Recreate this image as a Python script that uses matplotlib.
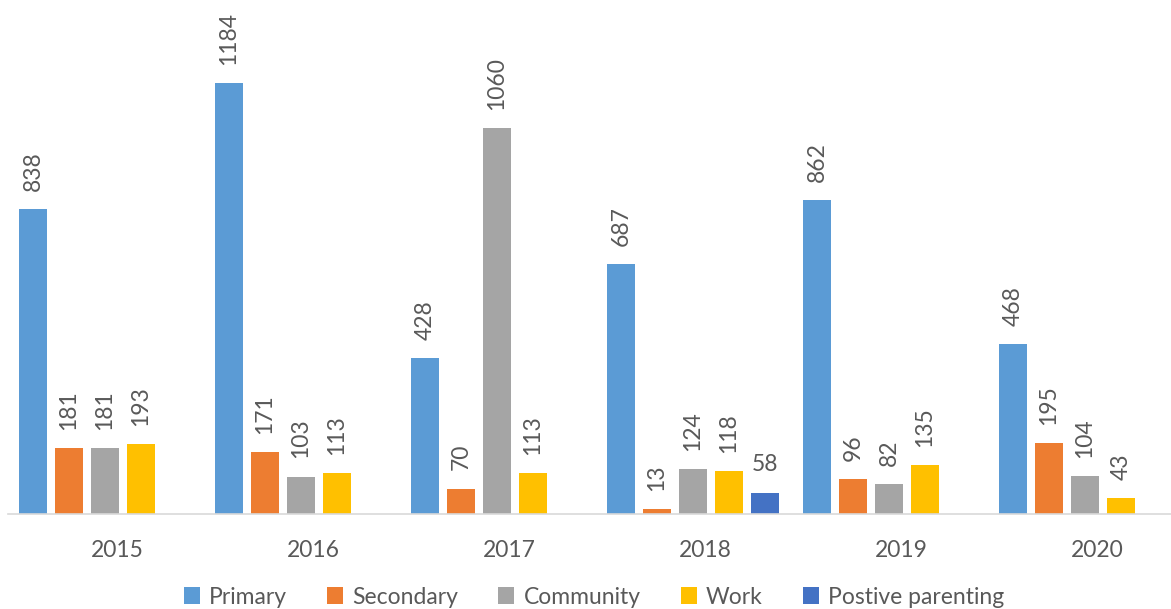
import matplotlib
matplotlib.use("Agg")
import matplotlib.pyplot as plt
import numpy as np

years = ["2015", "2016", "2017", "2018", "2019", "2020"]
series_names = ["Primary", "Secondary", "Community", "Work", "Postive parenting"]
primary = [838, 1184, 428, 687, 862, 468]
secondary = [181, 171, 70, 13, 96, 195]
community = [181, 103, 1060, 124, 82, 104]
work = [193, 113, 113, 118, 135, 43]
positive = [0, 0, 0, 58, 0, 0]

colors = ["#5B9BD5", "#ED7D31", "#A5A5A5", "#FFC000", "#4472C4"]
all_series = [primary, secondary, community, work, positive]

W, H = 1171, 609
fig = plt.figure(figsize=(W / 100, H / 100), dpi=100)
ax = fig.add_axes([8 / W, 1 - 514 / H, 1 - 8 / W, 1400 * 0.364 / H])

font = "Lato"
tc = "#595959"
fs = 16.5
x = np.arange(len(years))
pitch = 36 / 196
width = 28 / 196
first = -84 / 196

for k, (name, vals, col) in enumerate(zip(series_names, all_series, colors)):
    pos = x + first + k * pitch
    ax.bar(pos, vals, width=width, color=col, label=name, zorder=2)
    for xp, v in zip(pos, vals):
        if v == 0:
            continue
        rot = 0 if name == "Postive parenting" else 90
        ax.annotate(str(v), (xp, v), xytext=(0, 13), textcoords="offset points",
                    ha="center", va="bottom", rotation=rot, fontsize=fs,
                    color=tc, family=font, annotation_clip=False)

ax.set_xlim(-0.556, 5.378)
ax.set_ylim(0, 1400)
ax.set_xticks(x)
ax.set_xticklabels(years, fontsize=fs, color=tc, family=font)
ax.tick_params(axis="x", length=0, pad=19)
ax.set_yticks([])
for s in ["top", "right", "left"]:
    ax.spines[s].set_visible(False)
ax.spines["bottom"].set_color("#D9D9D9")
ax.spines["bottom"].set_linewidth(1.2)
ax.spines["bottom"].set_zorder(3)

handles, labels = ax.get_legend_handles_labels()
fig.legend(handles, labels, loc="center", bbox_to_anchor=(594 / W, 1 - 597 / H),
           ncol=5, frameon=False, handlelength=0.7, handleheight=0.7,
           handletextpad=0.4, columnspacing=1.75,
           prop={"family": font, "size": fs}, labelcolor=tc)

fig.savefig("out.png", dpi=100)
